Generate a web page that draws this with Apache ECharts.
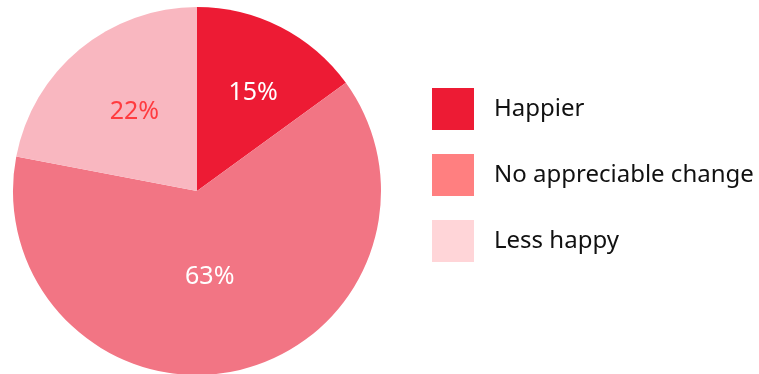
<!DOCTYPE html>
<html lang="en">
<head>
    <meta charset="UTF-8">
    <title>Happiness pie</title>
    <script src="https://cdn.jsdelivr.net/npm/echarts@6/dist/echarts.min.js"></script>
    <style>
        body { margin: 0; background: #fff; }
        #main { width: 759px; height: 374px; }
    </style>
</head>
<body>
    <div id="main"></div>
    <script>
        var categories = ['Happier', 'No appreciable change', 'Less happy'];
        var values = [15, 63, 22];
        var sliceColors = ['#ED1B34', '#F27584', '#F9B7C0'];
        var legendColors = ['#ED1B34', '#FF7F80', '#FFD5D8'];
        var labelColors = ['#ffffff', '#ffffff', '#FF3B3F'];
        var labelOffsets = [[13, -13], [-8, -7], [-2, -6]];

        var myChart = echarts.init(document.getElementById('main'));

        var option = {
            animation: false,
            legend: {
                orient: 'vertical',
                left: 427,
                top: 83,
                itemWidth: 42,
                itemHeight: 42,
                itemGap: 24,
                icon: 'rect',
                selectedMode: false,
                textStyle: {
                    fontFamily: 'Noto Sans',
                    fontSize: 24,
                    color: '#111',
                    padding: [0, 0, 0, 15]
                },
                data: categories.map(function (name, i) {
                    return { name: name, itemStyle: { color: legendColors[i] } };
                })
            },
            series: [{
                type: 'pie',
                center: [197, 191],
                radius: 184,
                startAngle: 90,
                clockwise: true,
                label: {
                    show: true,
                    position: 'inside',
                    fontFamily: 'Noto Sans',
                    fontSize: 25,
                    formatter: '{c}%'
                },
                labelLine: { show: false },
                emphasis: { disabled: true },
                data: categories.map(function (name, i) {
                    return {
                        name: name,
                        value: values[i],
                        itemStyle: { color: sliceColors[i] },
                        label: { color: labelColors[i], offset: labelOffsets[i] }
                    };
                })
            }]
        };

        myChart.setOption(option);
    </script>
</body>
</html>
